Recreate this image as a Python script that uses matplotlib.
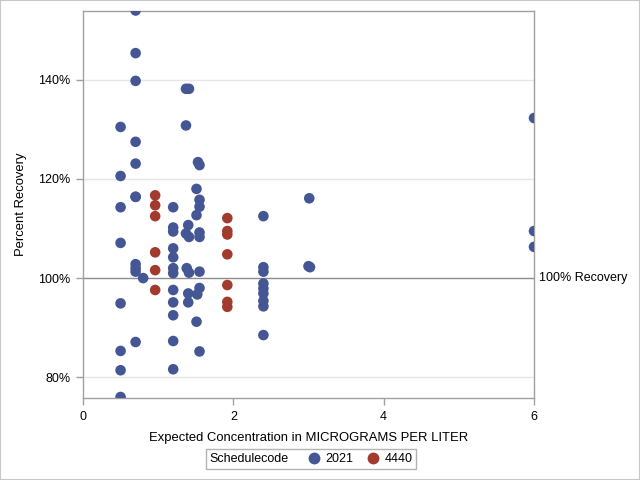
import matplotlib
matplotlib.use("Agg")
import matplotlib.pyplot as plt
from matplotlib.lines import Line2D
from matplotlib.patches import Rectangle
from matplotlib.ticker import FuncFormatter
from matplotlib.offsetbox import HPacker

plt.rcParams['font.family'] = ['Liberation Sans', 'DejaVu Sans']

# Schedulecode 2021
x_2021 = [0.5]*8 + [0.7]*11 + [0.8] + [1.2]*12 + [1.37, 1.41, 1.37, 1.40, 1.37, 1.41, 1.38, 1.41, 1.40, 1.40] \
    + [1.53, 1.55, 1.51, 1.55, 1.55, 1.51, 1.55, 1.55, 1.55, 1.55, 1.52, 1.51, 1.55] \
    + [2.4]*9 + [3.01, 3.0, 3.02] + [6.0]*3
y_2021 = [130.5, 120.6, 114.3, 107.1, 94.9, 85.3, 81.4, 76.0] \
    + [154.0, 145.4, 139.8, 127.5, 123.1, 116.4, 116.4, 102.8, 102.0, 101.3, 87.1] \
    + [100.0] \
    + [114.3, 110.2, 109.4, 106.0, 104.2, 102.0, 101.0, 97.6, 95.1, 92.5, 87.3, 81.6] \
    + [138.2, 138.2, 130.8, 110.7, 109.0, 108.3, 102.0, 101.1, 96.9, 95.1] \
    + [123.4, 122.8, 118.0, 115.8, 114.4, 112.7, 109.2, 108.3, 101.3, 98.0, 96.7, 91.2, 85.2] \
    + [112.5, 102.2, 101.3, 98.9, 97.9, 96.9, 95.4, 94.3, 88.5] \
    + [116.1, 102.4, 102.2] \
    + [132.3, 109.5, 106.3]

# Schedulecode 4440
x_4440 = [0.96]*6 + [1.92]*7
y_4440 = [116.7, 114.7, 112.5, 105.2, 101.6, 97.6,
          112.1, 109.5, 108.8, 104.8, 98.6, 95.2, 94.2]

x_ticks = [0, 2, 4, 6]
y_ticks = [80, 100, 120, 140]

c_blue = '#445694'
c_red = '#A23A2E'
axis_gray = '#A0A0A0'

fig = plt.figure(figsize=(6.4, 4.8), dpi=100)
ax = fig.add_axes([83/640, 1 - 398/480, 451/640, 387/480])

for yt in [80, 120, 140]:
    ax.axhline(yt, color='#E6E6E6', lw=1, zorder=0)
ax.axhline(100, color='#8C8C8C', lw=1, zorder=1)

ax.scatter(x_2021, y_2021, s=58, color=c_blue, edgecolors='none', zorder=3)
ax.scatter(x_4440, y_4440, s=58, color=c_red, edgecolors='none', zorder=3)

ax.set_xlim(0, 6)
ax.set_ylim(75.8, 153.9)
ax.set_xticks(x_ticks)
ax.set_yticks(y_ticks)
ax.yaxis.set_major_formatter(FuncFormatter(lambda v, p: f"{v:.0f}%"))
ax.tick_params(labelsize=9, color=axis_gray, length=5, width=1, pad=4)
for sp in ax.spines.values():
    sp.set_color(axis_gray)
    sp.set_linewidth(1)

ax.set_xlabel('Expected Concentration in MICROGRAMS PER LITER', fontsize=9.4, labelpad=7)
ax.set_ylabel('Percent Recovery', fontsize=9.4, labelpad=8)

ax.text(1.012, 100, '100% Recovery', transform=ax.get_yaxis_transform(),
        ha='left', va='center', fontsize=9, clip_on=False)

handles = [Line2D([], [], linestyle='none', marker='o', color=c_blue, markersize=7.5),
           Line2D([], [], linestyle='none', marker='o', color=c_red, markersize=7.5)]
labels = ['2021', '4440']
leg = fig.legend(handles, labels, title='Schedulecode', title_fontsize=9,
                 loc='center', bbox_to_anchor=(311/640, 1 - 459/480),
                 ncol=2, fontsize=9, frameon=True, fancybox=False, handlelength=0.8,
                 handletextpad=0.5, columnspacing=1.2, borderpad=0.3)
fs = leg._fontsize
newbox = HPacker(pad=leg.borderpad * fs, sep=1.6 * fs, align='center',
                 children=[leg._legend_title_box, leg._legend_handle_box])
newbox.set_figure(fig)
leg._legend_box = newbox
newbox.set_offset(leg._findoffset)
leg.get_frame().set_edgecolor(axis_gray)
leg.get_frame().set_linewidth(1)

fig.patches.append(Rectangle((0, 0), 1, 1, transform=fig.transFigure, fill=False,
                             edgecolor='#C8C8C8', lw=1.5))

fig.savefig('out.png', dpi=100)
